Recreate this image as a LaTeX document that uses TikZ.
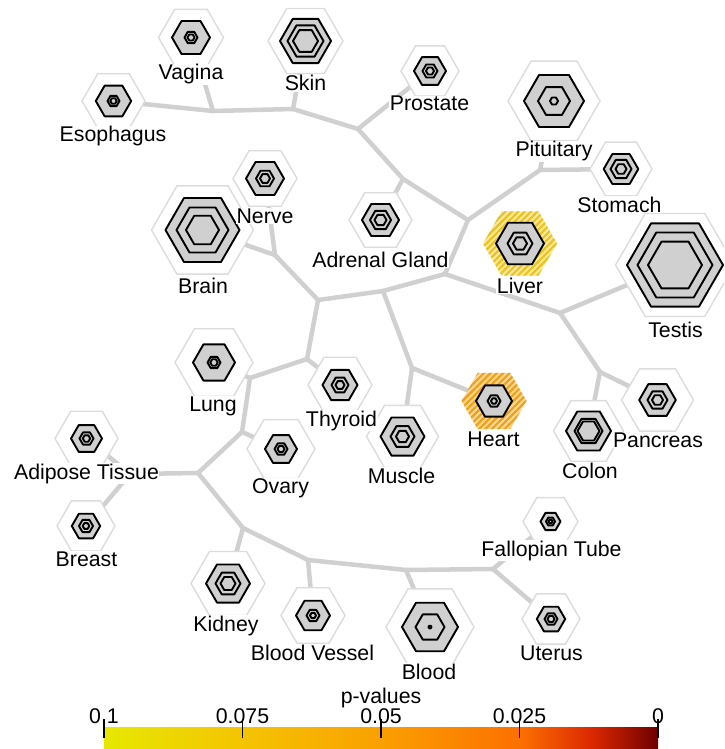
\documentclass[tikz,border=0pt]{standalone}
\usepackage{fontspec}
\setmainfont{Liberation Sans}
\usepackage{tikz}
\usetikzlibrary{patterns.meta}
\usepackage{xcolor}

\definecolor{branchgray}{RGB}{208,208,208}
\definecolor{rimgray}{RGB}{220,220,220}
\definecolor{hexgray}{RGB}{208,208,208}
\definecolor{liverstripe}{RGB}{236,194,30}
\definecolor{liverback}{RGB}{250,234,160}
\definecolor{heartstripe}{RGB}{240,160,24}
\definecolor{heartback}{RGB}{252,216,150}
\definecolor{pvA}{RGB}{230,232,0}
\definecolor{pvB}{RGB}{244,196,0}
\definecolor{pvC}{RGB}{250,160,0}
\definecolor{pvD}{RGB}{252,112,0}
\definecolor{pvE}{RGB}{220,40,0}
\definecolor{pvF}{RGB}{110,0,0}

\pgfdeclarehorizontalshading{pvalbar}{100bp}{color(0bp)=(pvA); color(25bp)=(pvA); color(37.5bp)=(pvB); color(50bp)=(pvC); color(62.5bp)=(pvD); color(69bp)=(pvE); color(75bp)=(pvF); color(100bp)=(pvF)}

\newcommand{\hexat}[2]{(#1) ++(#2,0) --++(120:#2) --++(180:#2) --++(240:#2) --++(300:#2) --++(0:#2) -- cycle}

\begin{document}
\begin{tikzpicture}[x=1pt, y=-1pt,
  branch/.style={draw=branchgray, line width=4.5pt, line cap=round, line join=round},
  rimhex/.style={draw=rimgray, fill=white, line width=1.4pt},
  ringhex/.style={draw=black, fill=hexgray, line width=1.9pt, line join=round},
  tissue/.style={font=\fontsize{21.3}{24}\selectfont, anchor=base, fill=white, inner sep=0.5pt},
  pvlab/.style={font=\fontsize{21.3}{24}\selectfont, anchor=base, inner sep=0pt}]

\useasboundingbox (0,0) rectangle (724,749);
\clip (0,0) rectangle (724,749);

% tissue centres
\foreach \nm/\cx/\cy in {vagina/191/37.5, skin/305.5/41, esophagus/113.5/101, prostate/430/71,
  pituitary/554/101, stomach/621/169, nerve/265/178.5, brain/202.5/230, adrenal/380.5/220,
  liver/520/243.5, testis/675/265, lung/214/362.5, thyroid/340/385, ovary/281/449,
  adipose/86.5/438.5, breast/86/526, heart/494/401, muscle/402.5/436.5, pancreas/657.5/400,
  colon/588.5/431, fallopian/550.5/521.5, kidney/228/583.5, vessel/313/615.5, blood/430/627,
  uterus/551/619}
  \coordinate (\nm) at (\cx,\cy);

% junctions of the tree
\foreach \nm/\cx/\cy in {j1/213/111, j2/293/109, j3/358/129, j4/403/179, j5/468/220, j6/540/170,
  j7/445/274, j8/383/291, j9/560/313, j10/318/300, j11/412/368, j12/600/372, j13/275/255,
  j14/307/359, j15/250/378, j16/242/432, j17/198/473, j18/130/474, j19/243/528, j20/308/560,
  j21/406/570, j22/493/569}
  \coordinate (\nm) at (\cx,\cy);

\foreach \a/\b in {esophagus/j1, vagina/j1, j1/j2, skin/j2, j2/j3, prostate/j3, j3/j4, adrenal/j4,
  j4/j5, j5/j6, j6/pituitary, j6/stomach, j5/j7, j7/j9, j9/testis, j9/j12, j12/pancreas, j12/colon,
  j7/j8, j8/j11, j11/heart, j11/muscle, j8/j10, j10/j13, j13/brain, j13/nerve, j10/j14, j14/thyroid,
  j14/j15, j15/lung, j15/j16, j16/ovary, j16/j17, j17/j18, j18/adipose, j18/breast, j17/j19,
  j19/kidney, j19/j20, j20/vessel, j20/j21, j21/blood, j21/j22, j22/fallopian, j22/uterus}
  \draw[branch] (\a) -- (\b);

% outer hexagons
\foreach \nm/\R in {vagina/32.5, skin/37.5, esophagus/31.5, prostate/29, pituitary/46, stomach/31,
  nerve/32, brain/51, adrenal/31.5, testis/59.5, lung/39, thyroid/32, ovary/34, adipose/31.5,
  breast/29, muscle/36, pancreas/36, colon/35, fallopian/27.5, kidney/37, vessel/32, blood/44,
  uterus/29}
  \draw[rimhex] \hexat{\nm}{\R};

\fill[liverback] \hexat{liver}{37};
\fill[pattern={Lines[angle=45,distance=4.5pt,line width=2.2pt]}, pattern color=liverstripe] \hexat{liver}{37};
\fill[heartback] \hexat{heart}{32.5};
\fill[pattern={Lines[angle=45,distance=4.5pt,line width=2.2pt]}, pattern color=heartstripe] \hexat{heart}{32.5};

% nested rings
\foreach \nm/\ra/\rb/\rc in {vagina/19/6.5/3.5, skin/25.5/18/12.5, esophagus/17.7/6/3.2,
  prostate/16/7.5/4, pituitary/30/16/4, stomach/17.3/10.5/5.5, nerve/19/9/5, brain/37/26/16.5,
  adrenal/18.5/10.5/6, liver/24/12.5/7, testis/48/37.5/27, lung/21/6.5/3.7, thyroid/17.5/8.5/4.5,
  ovary/16/6.5/3.5, adipose/15.5/7/3.7, breast/14.2/7/3.3, heart/18/6.5/3, muscle/22/12/6.5,
  pancreas/18.3/10/5.5, colon/22.5/14/11, fallopian/10/4.5/2, kidney/22/12.5/7.5,
  vessel/17/6.5/3, blood/28/14.5/1.5, uterus/14.2/6.5/3.5}
  \foreach \r in {\ra,\rb,\rc}
    \draw[ringhex] \hexat{\nm}{\r};

% labels
\foreach \nm/\lx/\ly/\txt in {vagina/191/80/Vagina, skin/305.5/91/Skin, esophagus/113/142/Esophagus,
  prostate/429.5/111/Prostate, pituitary/554/157/Pituitary, stomach/619.5/212/Stomach,
  nerve/265/223/Nerve, brain/203/293/Brain, adrenal/380.5/267/Adrenal Gland, liver/520/293/Liver,
  testis/675.5/337/Testis, lung/213/411/Lung, thyroid/341.5/426/Thyroid, ovary/280.5/493/Ovary,
  adipose/86.5/479/Adipose Tissue, breast/86.5/566/Breast, heart/493.5/446/Heart,
  pancreas/658/447/Pancreas, muscle/401.5/483/Muscle, colon/590/478/Colon,
  fallopian/551.5/556/Fallopian Tube, kidney/226/631/Kidney, vessel/312.5/660/Blood Vessel,
  blood/429/679/Blood, uterus/551.5/660/Uterus}
  \node[tissue] (\nm-lab) at (\lx,\ly) {\txt};

% colour bar
\shade[shading=pvalbar] (104,727) rectangle (658,749);
\node[pvlab] (pvtitle) at (381,703) {p-values};
\foreach \tx/\tl [count=\i] in {104/0.1, 242.5/0.075, 381/0.05, 519.5/0.025, 658/0}{
  \node[pvlab] (tick\i) at (\tx,723) {\tl};
  \draw[line width=1.5pt] (\tx,719) -- (\tx,738);
}

\end{tikzpicture}
\end{document}
